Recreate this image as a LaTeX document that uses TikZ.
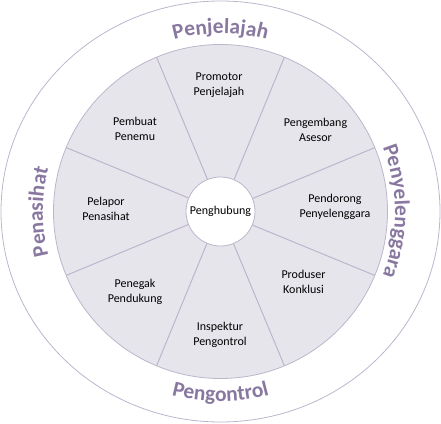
\documentclass[tikz,border=0pt]{standalone}
\usepackage{fontspec}
\setmainfont{Carlito}
\usetikzlibrary{decorations.text}
\definecolor{wheelfill}{HTML}{E7E5EC}
\definecolor{wheelline}{HTML}{BDB5CC}
\definecolor{rolecol}{HTML}{8878A0}
\newcommand{\rolefont}{\fontsize{21.5}{22}\selectfont\bfseries\color{rolecol}}

\begin{document}
\begin{tikzpicture}[
  seg/.style={align=center, font=\fontsize{12}{15}\selectfont},
  role/.style={decorate, decoration={text along path, text align=center, text={|\rolefont|#1}}}]
  \useasboundingbox (-220.5pt,-211.5pt) rectangle (220.5pt,211.5pt);
  \draw[wheelline, line width=0.8pt] (0,0) ellipse [x radius=219.5pt, y radius=210.5pt];
  \filldraw[fill=wheelfill, draw=wheelline, line width=0.8pt] (0,0) circle (167pt);
  \node[circle, fill=white, draw=wheelline, line width=0.8pt, minimum size=69pt, inner sep=0pt,
    font=\fontsize{12}{15}\selectfont] (hub) at (0,0) {Penghubung};
  \foreach \a in {22.5,67.5,...,337.5}
    \draw[wheelline, line width=1pt] (hub.\a) -- (\a:167pt);
  % roles in the wheel
  \node[seg] (promotor) at (-1.5pt,126.5pt) {Promotor\\Penjelajah};
  \node[seg] (pengembang) at (95pt,82pt) {Pengembang\\Asesor};
  \node[seg] (pendorong) at (114.5pt,5pt) {Pendorong\\Penyelenggara};
  \node[seg] (produser) at (83pt,-70pt) {Produser\\Konklusi};
  \node[seg] (inspektur) at (-0.5pt,-123.5pt) {Inspektur\\Pengontrol};
  \node[seg] (penegak) at (-85.5pt,-80.5pt) {Penegak\\Pendukung};
  \node[seg] (pelapor) at (-114.5pt,2.5pt) {Pelapor\\Penasihat};
  \node[seg] (pembuat) at (-85.5pt,82.5pt) {Pembuat\\Penemu};
  % outer ring labels
  \path[role=Penjelajah] (150:178pt) arc[start angle=150, end angle=30, radius=178pt];
  \path[role=Penyelenggara] (60:174.5pt) arc[start angle=60, end angle=-60, radius=174.5pt];
  \path[role=Pengontrol] (210:190pt) arc[start angle=210, end angle=330, radius=190pt];
  \path[role=Penasihat] (240:177.5pt) arc[start angle=240, end angle=120, radius=177.5pt];
\end{tikzpicture}
\end{document}
